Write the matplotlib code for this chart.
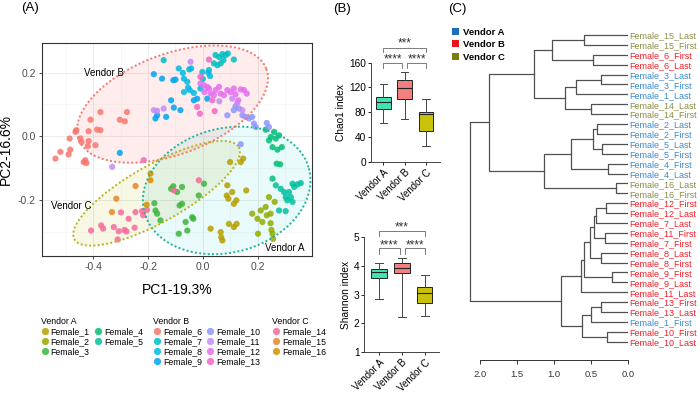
import numpy as np
import matplotlib.pyplot as plt
from matplotlib.patches import Polygon, Patch
from matplotlib.lines import Line2D

plt.rcParams['font.family'] = ['Liberation Sans', 'DejaVu Sans']

# ---------------- panel A data (PC1, PC2) ----------------
f1_pts = [(0.028, -0.290), (0.065, -0.301), (0.067, -0.317), (0.071, -0.327), (0.095, -0.275),
          (0.113, -0.285), (0.123, -0.275), (0.089, -0.154), (0.087, -0.186), (0.093, -0.196),
          (0.107, -0.175), (0.122, -0.201), (0.158, -0.170), (0.099, -0.081), (0.138, -0.081),
          (0.147, -0.070), (0.113, -0.212)]
f2_pts = [(0.180, -0.243), (0.199, -0.259), (0.211, -0.233), (0.217, -0.269), (0.233, -0.248),
          (0.247, -0.243), (0.247, -0.273), (0.250, -0.294), (0.254, -0.306), (0.256, -0.322),
          (0.201, -0.306), (0.241, -0.191), (0.262, -0.206), (0.229, -0.222)]
f3_pts = [(-0.177, -0.210), (-0.173, -0.233), (-0.167, -0.243), (-0.155, -0.264), (-0.116, -0.165),
          (-0.108, -0.157), (-0.094, -0.175), (-0.076, -0.159), (-0.085, -0.217), (-0.076, -0.212),
          (-0.063, -0.269), (-0.039, -0.254), (-0.035, -0.259), (-0.015, -0.186), (0.004, -0.149),
          (-0.088, -0.306), (-0.057, -0.296)]
f4_pts = [(0.229, 0.021), (0.241, -0.013), (0.248, -0.002), (0.260, 0.014), (0.266, -0.007),
          (0.278, 0.003), (0.254, -0.034), (0.272, -0.042), (0.288, -0.034), (0.269, -0.086),
          (0.282, -0.088), (0.254, -0.133)]
f5_pts = [(0.266, -0.154), (0.284, -0.165), (0.296, -0.175), (0.302, -0.191), (0.308, -0.201),
          (0.314, -0.175), (0.321, -0.191), (0.327, -0.206), (0.333, -0.159), (0.345, -0.151),
          (0.357, -0.147), (0.327, -0.149), (0.278, -0.233), (0.302, -0.235)]
f6_pts = [(-0.538, -0.070), (-0.520, -0.049), (-0.490, -0.057), (-0.484, -0.042), (-0.486, -0.007),
          (-0.465, 0.014), (-0.462, 0.019), (-0.447, -0.007), (-0.443, -0.018), (-0.435, -0.081),
          (-0.429, -0.075), (-0.425, -0.084), (-0.417, 0.016), (-0.417, -0.015), (-0.420, -0.031),
          (-0.410, 0.052), (-0.392, -0.028), (-0.386, 0.021), (-0.374, 0.019), (-0.374, 0.076),
          (-0.303, 0.052), (-0.285, 0.047), (-0.277, 0.076)]
f7_pts = [(0.046, 0.255), (0.059, 0.249), (0.071, 0.258), (0.083, 0.255), (0.091, 0.260),
          (0.075, 0.239), (0.065, 0.229), (0.053, 0.223), (0.040, 0.229), (0.113, 0.241),
          (-0.143, 0.239), (-0.050, 0.210), (0.000, 0.180), (0.020, 0.200)]
f8_pts = [(-0.088, 0.213), (-0.073, 0.199), (-0.069, 0.181), (-0.057, 0.171), (-0.069, 0.139),
          (-0.054, 0.153), (-0.043, 0.213), (-0.048, 0.145), (-0.033, 0.136), (-0.002, 0.202),
          (0.022, 0.208), (0.026, 0.189), (-0.009, 0.150)]
f9_pts = [(-0.179, 0.195), (-0.149, 0.181), (-0.173, 0.056), (-0.167, 0.066), (-0.134, 0.061),
          (-0.116, 0.113), (-0.108, 0.176), (-0.100, 0.178), (-0.106, 0.090), (-0.082, 0.082),
          (-0.033, 0.113), (-0.021, 0.118), (0.016, 0.118), (-0.303, -0.052)]
f10_pts = [(0.089, 0.066), (0.113, 0.082), (0.119, 0.094), (0.132, 0.087), (0.144, 0.066),
           (0.156, 0.061), (0.168, 0.056), (0.180, 0.061), (0.186, 0.040), (0.193, 0.029),
           (0.233, 0.042), (0.241, 0.029), (0.138, -0.025)]
f11_pts = [(-0.179, 0.082), (-0.167, 0.080), (-0.143, 0.087), (-0.331, -0.096), (-0.045, 0.234),
           (0.107, 0.118), (0.125, 0.103), (0.144, 0.082), (0.060, 0.110)]
f12_pts = [(-0.009, 0.166), (0.004, 0.160), (0.006, 0.139), (0.016, 0.155), (0.022, 0.150),
           (0.028, 0.134), (0.040, 0.129), (0.046, 0.145), (0.059, 0.155), (0.065, 0.134),
           (0.077, 0.129), (0.089, 0.145), (0.101, 0.139), (0.113, 0.150), (0.119, 0.132),
           (0.138, 0.147), (0.150, 0.145), (0.160, 0.134), (0.129, 0.113)]
f13_pts = [(-0.021, 0.092), (-0.011, 0.071), (0.043, 0.079), (0.022, 0.241), (-0.009, 0.187),
           (0.034, 0.113), (-0.216, -0.075)]
f14_pts = [(-0.408, -0.296), (-0.371, -0.280), (-0.364, -0.290), (-0.325, -0.285), (-0.307, -0.298),
           (-0.311, -0.324), (-0.286, -0.294), (-0.279, -0.299), (-0.271, -0.259), (-0.299, -0.239),
           (-0.246, -0.238), (-0.249, -0.287), (-0.222, -0.235), (-0.218, -0.248), (-0.204, -0.231),
           (-0.106, -0.170), (-0.015, -0.138)]
f15_pts = [(-0.246, -0.156), (-0.316, -0.196), (-0.332, -0.238)]
f16_pts = [(-0.191, -0.117), (-0.191, -0.138), (-0.205, -0.215)]

female_names = ['Female_%d' % i for i in range(1, 17)]
female_pts = [f1_pts, f2_pts, f3_pts, f4_pts, f5_pts, f6_pts, f7_pts, f8_pts,
              f9_pts, f10_pts, f11_pts, f12_pts, f13_pts, f14_pts, f15_pts, f16_pts]
female_colors = ['#B79F00', '#93AA00', '#3CB53C', '#00BF74', '#00C19F', '#F8766D', '#00BFC4', '#00B9E3',
                 '#00A5F0', '#8C96FF', '#C58BF5', '#E56EF0', '#F565C8', '#F76A9A', '#E88526', '#D39200']
vendor_groups = {'Vendor A': [0, 1, 2, 3, 4],
                 'Vendor B': [5, 6, 7, 8, 9, 10, 11, 12],
                 'Vendor C': [13, 14, 15]}

# ellipses: centre and the two semi-axis vectors (data units)
ell_names = ['Vendor A', 'Vendor B', 'Vendor C']
ell_center = [(0.0867, -0.170), (-0.111, 0.101), (-0.169, -0.179)]
ell_axis1 = [(0.300, 0.0692), (0.3426, 0.1104), (0.2998, 0.1447)]
ell_axis2 = [(0.0589, -0.188), (0.0642, -0.1473), (0.0509, -0.0782)]
ell_colors = ['#1DB39C', '#F07A70', '#B8B41C']
ell_fill = ['#00C8C8', '#F8766D', '#B8B400']
ell_alpha = [0.09, 0.13, 0.10]
ell_label_pos = [(0.30, -0.35), (-0.36, 0.2), (-0.48, -0.22)]

# ---------------- panel B data ----------------
vendors = ['Vendor A', 'Vendor B', 'Vendor C']
box_colors = ['#40E3B2', '#F28080', '#C8C20A']
chao1_med = [96, 118.5, 77]
chao1_q1 = [85, 102, 50]
chao1_q3 = [104, 132, 80]
chao1_lo = [62, 69, 26]
chao1_hi = [125, 145, 102]
shannon_med = [3.80, 3.92, 3.06]
shannon_q1 = [3.57, 3.74, 2.71]
shannon_q3 = [3.89, 4.09, 3.25]
shannon_lo = [2.83, 2.20, 2.24]
shannon_hi = [4.09, 4.29, 3.67]
sig_pairs = [(0, 1, '****'), (1, 2, '****'), (0, 2, '***')]

# ---------------- panel C data ----------------
leaf_labels = ['Female_15_Last', 'Female_15_First', 'Female_6_First', 'Female_6_Last',
               'Female_3_Last', 'Female_3_First', 'Female_1_Last', 'Female_14_Last',
               'Female_14_First', 'Female_2_Last', 'Female_2_First', 'Female_5_Last',
               'Female_5_First', 'Female_4_First', 'Female_4_Last', 'Female_16_Last',
               'Female_16_First', 'Female_12_First', 'Female_12_Last', 'Female_7_Last',
               'Female_11_First', 'Female_7_First', 'Female_8_Last', 'Female_8_First',
               'Female_9_First', 'Female_9_Last', 'Female_11_Last', 'Female_13_First',
               'Female_13_Last', 'Female_1_First', 'Female_10_First', 'Female_10_Last']
leaf_vendor = ['C', 'C', 'B', 'B', 'A', 'A', 'A', 'C', 'C', 'A', 'A', 'A', 'A', 'A', 'A', 'C',
               'C', 'B', 'B', 'B', 'B', 'B', 'B', 'B', 'B', 'B', 'B', 'B', 'B', 'A', 'B', 'B']
# (child, child, height); ids >= 32 refer to earlier merges
merges = [(0, 1, 0.60), (2, 3, 0.47), (32, 33, 1.03), (4, 5, 0.365), (35, 6, 0.70),
          (7, 8, 0.50), (36, 37, 0.85), (34, 38, 1.27), (9, 10, 0.42), (11, 12, 0.35),
          (40, 41, 0.48), (13, 14, 0.27), (42, 43, 0.77), (15, 16, 0.16), (44, 45, 1.135),
          (39, 46, 1.88), (17, 18, 0.30), (48, 19, 0.43), (20, 21, 0.31), (49, 50, 0.46),
          (22, 23, 0.37), (51, 52, 0.52), (24, 25, 0.21), (53, 54, 0.60), (55, 26, 0.635),
          (27, 28, 0.36), (57, 29, 0.50), (30, 31, 0.29), (58, 59, 0.62), (56, 60, 0.905),
          (47, 61, 2.14)]
label_colors = {'A': '#3A8AD0', 'B': '#F0202A', 'C': '#8E8E45'}
legend_colors = {'A': '#1F6FB8', 'B': '#E8141C', 'C': '#7C7C14'}

fig = plt.figure(figsize=(7, 3.99), dpi=100)

# ================= Panel A =================
axA = fig.add_axes([0.0604, 0.3591, 0.3849, 0.5324])
t = np.linspace(0, 2 * np.pi, 200)
for c, a1, a2, lc, fc, al in zip(ell_center, ell_axis1, ell_axis2, ell_colors, ell_fill, ell_alpha):
    ex = c[0] + np.cos(t) * a1[0] + np.sin(t) * a2[0]
    ey = c[1] + np.cos(t) * a1[1] + np.sin(t) * a2[1]
    axA.add_patch(Polygon(np.column_stack([ex, ey]), closed=True, facecolor=fc, alpha=al,
                          edgecolor='none', zorder=1))
    axA.plot(np.append(ex, ex[0]), np.append(ey, ey[0]), ls=(0, (1, 1.2)), color=lc, lw=1.4, zorder=3)

for pts, col in zip(female_pts, female_colors):
    p = np.array(pts)
    axA.scatter(p[:, 0], p[:, 1], s=20, color=col, alpha=0.85, edgecolors='none', zorder=2)

for name, (x, y) in zip(ell_names, ell_label_pos):
    axA.text(x, y, name, fontsize=7, ha='center', va='center', zorder=4)

axA.set_xlim(-0.586, 0.397)
axA.set_ylim(-0.375, 0.292)
axA.set_xticks([-0.4, -0.2, 0.0, 0.2])
axA.set_xticklabels(['-0.4', '-0.2', '0.0', '0.2'])
axA.set_yticks([-0.2, 0.0, 0.2])
axA.set_yticklabels(['-0.2', '0.0', '0.2'])
axA.set_xticks([-0.5, -0.3, -0.1, 0.1, 0.3], minor=True)
axA.set_yticks([-0.3, -0.1, 0.1], minor=True)
axA.grid(which='major', color='#EBEBEB', lw=0.7, zorder=0)
axA.grid(which='minor', color='#F4F4F4', lw=0.4, zorder=0)
axA.set_axisbelow(True)
axA.tick_params(which='major', length=2.5, width=0.6, color='#333333', labelsize=7.5,
                labelcolor='#4D4D4D', pad=2)
axA.tick_params(which='minor', length=0)
for s in axA.spines.values():
    s.set_color('#333333')
    s.set_linewidth(0.8)
axA.set_xlabel('PC1-19.3%', fontsize=10, labelpad=8)
axA.set_ylabel('PC2-16.6%', fontsize=10, labelpad=4)

leg_x = [0.058, 0.219, 0.389]
leg_ncol = [2, 2, 1]
for (vname, idx), lx, nc in zip(vendor_groups.items(), leg_x, leg_ncol):
    handles = [Line2D([], [], marker='o', ls='', color=female_colors[i], alpha=0.85, markersize=5.2,
                      markeredgewidth=0) for i in idx]
    leg = fig.legend(handles, [female_names[i] for i in idx], title=vname, loc='upper left',
                     bbox_to_anchor=(lx, 0.205), ncol=nc, frameon=False, fontsize=6.3, title_fontsize=6.3,
                     handlelength=0.9, handletextpad=0.25, columnspacing=0.45, labelspacing=0.12,
                     borderpad=0, borderaxespad=0, alignment='left')

# ================= Panel B =================
def box_panel(rect, med, q1, q3, lo, hi, ylim, yticks, ylabel, xlim, brk):
    ax = fig.add_axes(rect)
    stats = [dict(med=m, q1=a, q3=b, whislo=l, whishi=h, fliers=[])
             for m, a, b, l, h in zip(med, q1, q3, lo, hi)]
    bp = ax.bxp(stats, positions=[0, 1, 2], widths=0.68, patch_artist=True, showfliers=False,
                capwidths=0.34,
                boxprops=dict(linewidth=0.7, edgecolor='#222222'),
                medianprops=dict(color='#222222', linewidth=0.8),
                whiskerprops=dict(color='#444444', linewidth=0.7),
                capprops=dict(color='#444444', linewidth=0.7))
    for patch, col in zip(bp['boxes'], box_colors):
        patch.set_facecolor(col)
    ax.set_xlim(*xlim)
    ax.set_ylim(*ylim)
    ax.set_yticks(yticks)
    ax.set_xticks([0, 1, 2])
    ax.set_xticklabels(vendors, rotation=45, ha='right', rotation_mode='anchor', fontsize=7)
    ax.tick_params(axis='y', labelsize=7.3, length=2.5, width=0.6, pad=1)
    ax.tick_params(axis='x', length=2.5, width=0.6, pad=1.5)
    ax.spines[['top', 'right']].set_visible(False)
    for s in ['left', 'bottom']:
        ax.spines[s].set_linewidth(0.7)
        ax.spines[s].set_color('#444444')
    ax.set_ylabel(ylabel, fontsize=7.3, labelpad=2)
    # significance brackets
    for (i, j, txt), (yl, drop, gap_l, gap_r) in zip(sig_pairs, brk):
        x0 = i + gap_l
        x1 = j - gap_r
        ax.plot([x0, x0, x1, x1], [yl - drop, yl, yl, yl - drop], color='#666666', lw=0.6,
                clip_on=False)
        ax.text((x0 + x1) / 2, yl - drop * 0.5, txt, ha='center', va='bottom', fontsize=8.5,
                color='#333333')
    return ax

box_panel([0.5296, 0.5947, 0.099, 0.2481], chao1_med, chao1_q1, chao1_q3, chao1_lo, chao1_hi,
          (0, 160), [0, 40, 80, 120, 160], 'Chao1 index', (-0.586, 2.65),
          [(160, 8, 0, 0.12), (160, 8, 0.12, 0), (184, 6, 0, 0)])
box_panel([0.5204, 0.1185, 0.1067, 0.2867], shannon_med, shannon_q1, shannon_q3, shannon_lo,
          shannon_hi, (1, 5), [1, 2, 3, 4, 5], 'Shannon index', (-0.643, 2.626),
          [(4.615, 0.19, 0, 0.1), (4.615, 0.19, 0.12, 0), (5.22, 0.17, 0, 0)])

# ================= Panel C =================
axC = fig.add_axes([0.6646, 0.0977, 0.2326, 0.827])
n = len(leaf_labels)
pos = {i: (float(i), 0.0) for i in range(n)}
for k, (a, b, h) in enumerate(merges):
    ya, ha = pos[a]
    yb, hb = pos[b]
    axC.plot([ha, h, h, hb], [ya, ya, yb, yb], color='#505050', lw=0.9)
    pos[n + k] = ((ya + yb) / 2, h)
axC.set_xlim(2.2, 0)
axC.set_ylim(32.85, -0.5)
axC.yaxis.tick_right()
axC.set_yticks(range(n))
axC.set_yticklabels(leaf_labels, fontsize=6.5)
for lab, v in zip(axC.get_yticklabels(), leaf_vendor):
    lab.set_color(label_colors[v])
axC.tick_params(axis='y', length=0, pad=1)
axC.set_xticks([2.0, 1.5, 1.0, 0.5, 0.0])
axC.set_xticklabels(['2.0', '1.5', '1.0', '0.5', '0.0'])
axC.tick_params(axis='x', labelsize=6.8, length=3, width=0.7, color='#333333', labelcolor='#333333', pad=4)
for s in ['top', 'right', 'left']:
    axC.spines[s].set_visible(False)
axC.spines['bottom'].set_bounds(0, 2)
axC.spines['bottom'].set_color('#333333')
axC.spines['bottom'].set_linewidth(0.7)
leg_handles = [Patch(facecolor=legend_colors[v], edgecolor='none') for v in ['A', 'B', 'C']]
legC = fig.legend(leg_handles, vendors, loc='upper left', bbox_to_anchor=(0.645, 0.93), frameon=False,
                  handlelength=0.75, handleheight=0.75, handletextpad=0.5, labelspacing=0.35,
                  borderpad=0, borderaxespad=0, prop={'size': 6.8, 'weight': 'bold'})

# panel letters
fig.text(0.030, 0.995, '(A)', fontsize=9.5, va='top')
fig.text(0.476, 0.993, '(B)', fontsize=9.5, va='top')
fig.text(0.640, 0.993, '(C)', fontsize=9.5, va='top')

fig.savefig('out.png', dpi=100)
